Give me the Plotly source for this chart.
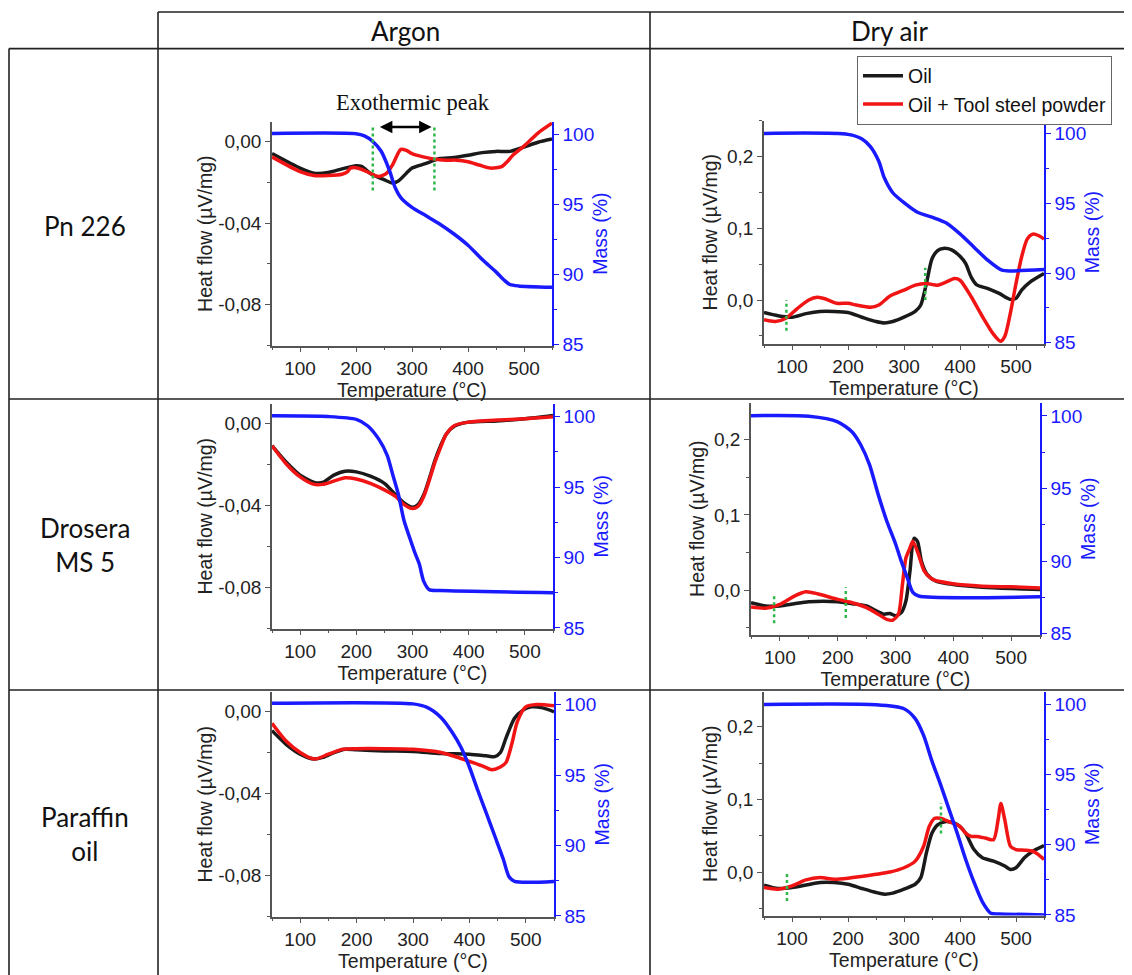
import plotly.graph_objects as go

W, H = 1132, 975
OFF = 8  # the page body has an 8px margin, so shift every pixel position back by it

# ---- data (T in °C, heat flow in µV/mg, mass in %) ----
# Pn 226 / Argon
pn_ar_oil_t = [50, 100, 125, 150, 175, 200, 210, 225, 250, 265, 275, 290, 300, 325, 340, 350, 375, 400, 425, 450, 475, 500, 525, 550]
pn_ar_oil_hf = [-0.0059, -0.013, -0.0155, -0.0152, -0.0134, -0.0118, -0.0122, -0.0155, -0.0187, -0.0203, -0.0195, -0.0155, -0.013, -0.0107, -0.0091, -0.0083, -0.0078, -0.0067, -0.0054, -0.0048, -0.0048, -0.0027, -0.0003, 0.0013]
pn_ar_mix_t = [50, 100, 125, 150, 175, 185, 190, 200, 210, 225, 240, 255, 265, 280, 290, 300, 320, 340, 360, 380, 400, 420, 440, 460, 470, 480, 500, 525, 550]
pn_ar_mix_hf = [-0.0075, -0.0147, -0.0166, -0.0166, -0.016, -0.0147, -0.013, -0.0128, -0.0136, -0.0155, -0.0171, -0.0155, -0.0115, -0.0038, -0.0043, -0.0059, -0.0075, -0.0086, -0.0091, -0.0091, -0.0099, -0.0115, -0.013, -0.0123, -0.0099, -0.0067, -0.0022, 0.0042, 0.009]
pn_ar_mass_t = [50, 200, 215, 230, 245, 260, 270, 280, 300, 325, 350, 375, 400, 425, 450, 465, 475, 490, 550]
pn_ar_mass = [100.07, 100.05, 99.9, 99.5, 98.8, 97.4, 96.2, 95.5, 94.8, 94.2, 93.6, 92.9, 92.1, 91.1, 90.2, 89.6, 89.3, 89.2, 89.1]

# Pn 226 / Dry air
pn_air_oil_t = [50, 75, 100, 125, 150, 175, 200, 225, 250, 265, 280, 300, 320, 330, 340, 350, 360, 370, 385, 400, 410, 420, 430, 450, 470, 490, 500, 510, 525, 550]
pn_air_oil_hf = [-0.0175, -0.022, -0.024, -0.019, -0.016, -0.016, -0.0175, -0.024, -0.03, -0.032, -0.03, -0.024, -0.016, -0.007, 0.023, 0.0576, 0.069, 0.072, 0.07, 0.061, 0.051, 0.032, 0.021, 0.016, 0.0092, 0.0009, 0.0023, 0.0138, 0.025, 0.037]
pn_air_mix_t = [50, 70, 90, 110, 130, 145, 160, 180, 200, 215, 240, 255, 275, 300, 320, 340, 360, 375, 390, 400, 420, 440, 460, 472, 480, 490, 500, 510, 520, 530, 540, 550]
pn_air_mix_hf = [-0.0276, -0.03, -0.025, -0.0115, 0.0, 0.0037, 0.0014, -0.0046, -0.0046, -0.007, -0.01, -0.007, 0.0055, 0.0138, 0.0207, 0.023, 0.0207, 0.025, 0.03, 0.0276, 0.0046, -0.023, -0.048, -0.0576, -0.0507, -0.018, 0.023, 0.06, 0.085, 0.092, 0.09, 0.085]
pn_air_mass_t = [50, 200, 225, 240, 255, 265, 280, 300, 325, 350, 375, 400, 425, 450, 475, 490, 550]
pn_air_mass = [100.0, 99.93, 99.6, 99.05, 98.0, 96.8, 95.75, 95.04, 94.33, 94.0, 93.6, 92.8, 91.85, 90.9, 90.2, 90.15, 90.25]

# Drosera MS 5 / Argon
dr_ar_oil_t = [50, 75, 100, 125, 140, 160, 180, 200, 225, 250, 270, 285, 300, 310, 320, 330, 340, 350, 360, 375, 400, 450, 500, 550]
dr_ar_oil_hf = [-0.0107, -0.0187, -0.0251, -0.0286, -0.0286, -0.0251, -0.0232, -0.0235, -0.0256, -0.0291, -0.0347, -0.0387, -0.0408, -0.0395, -0.0347, -0.0267, -0.0179, -0.0107, -0.0051, -0.0011, 0.0008, 0.0014, 0.0024, 0.004]
dr_ar_mix_t = [50, 75, 100, 125, 140, 160, 180, 200, 225, 250, 270, 285, 300, 310, 320, 330, 340, 350, 360, 375, 400, 450, 500, 550]
dr_ar_mix_hf = [-0.0107, -0.0195, -0.0259, -0.0296, -0.0296, -0.028, -0.0264, -0.027, -0.0291, -0.0323, -0.0355, -0.0395, -0.0414, -0.0403, -0.0355, -0.0275, -0.0187, -0.0115, -0.0051, -0.0008, 0.0008, 0.0018, 0.0024, 0.0034]
dr_ar_mass_t = [50, 150, 200, 220, 240, 255, 265, 275, 285, 295, 305, 312, 320, 330, 350, 550]
dr_ar_mass = [100.05, 100.0, 99.8, 99.35, 98.4, 97.25, 95.85, 94.45, 92.6, 91.4, 90.25, 89.55, 88.3, 87.7, 87.65, 87.5]

# Drosera MS 5 / Dry air
dr_air_oil_t = [50, 75, 100, 125, 150, 200, 225, 250, 265, 280, 290, 300, 310, 318, 325, 332, 338, 345, 355, 370, 400, 450, 500, 550]
dr_air_oil_hf = [-0.0167, -0.021, -0.021, -0.018, -0.0154, -0.0154, -0.018, -0.021, -0.027, -0.032, -0.031, -0.034, -0.03, -0.0145, 0.025, 0.069, 0.065, 0.038, 0.0207, 0.0119, 0.0075, 0.004, 0.0022, 0.0009]
dr_air_mix_t = [50, 75, 100, 125, 145, 165, 200, 225, 250, 270, 285, 295, 305, 312, 318, 325, 330, 340, 350, 365, 400, 450, 500, 550]
dr_air_mix_hf = [-0.0225, -0.024, -0.019, -0.0079, -0.0022, -0.0048, -0.0123, -0.0167, -0.0233, -0.032, -0.0388, -0.04, -0.032, 0.0075, 0.0427, 0.056, 0.065, 0.047, 0.025, 0.014, 0.0084, 0.0053, 0.0044, 0.003]
dr_air_mass_t = [50, 150, 200, 225, 240, 255, 270, 285, 300, 310, 320, 330, 340, 550]
dr_air_mass = [100.02, 99.98, 99.6, 98.9, 98.0, 96.65, 94.6, 92.75, 91.2, 90.0, 88.9, 87.85, 87.6, 87.55]

# Paraffin oil / Argon
pa_ar_oil_t = [50, 75, 100, 125, 140, 160, 180, 200, 250, 300, 350, 400, 430, 445, 455, 465, 480, 495, 510, 530, 550]
pa_ar_oil_hf = [-0.0092, -0.0159, -0.0207, -0.0231, -0.0223, -0.0199, -0.0183, -0.0186, -0.0191, -0.0194, -0.0204, -0.0207, -0.0215, -0.0219, -0.0199, -0.0127, -0.0032, 0.0008, 0.0024, 0.0019, 0.0]
pa_ar_mix_t = [50, 75, 100, 125, 150, 175, 200, 250, 300, 350, 400, 425, 440, 455, 465, 475, 485, 500, 520, 550]
pa_ar_mix_hf = [-0.0056, -0.0143, -0.0199, -0.0231, -0.0207, -0.0183, -0.018, -0.018, -0.0183, -0.0199, -0.0242, -0.0267, -0.0283, -0.027, -0.0247, -0.0159, -0.0048, 0.0024, 0.0035, 0.0029]
pa_ar_mass_t = [50, 300, 325, 350, 370, 385, 400, 415, 430, 445, 460, 470, 480, 550]
pa_ar_mass = [100.1, 100.05, 99.8, 99.07, 98.0, 96.97, 95.57, 93.9, 92.3, 90.67, 89.04, 87.8, 87.45, 87.45]

# Paraffin oil / Dry air
pa_air_oil_t = [50, 75, 100, 125, 150, 175, 200, 225, 250, 265, 280, 300, 320, 330, 340, 350, 360, 375, 390, 400, 410, 425, 440, 460, 480, 490, 500, 515, 530, 550]
pa_air_oil_hf = [-0.018, -0.0227, -0.0214, -0.018, -0.0145, -0.0145, -0.0168, -0.0227, -0.0282, -0.0305, -0.029, -0.0236, -0.0168, -0.0077, 0.0264, 0.0536, 0.065, 0.0695, 0.0673, 0.0627, 0.0536, 0.0309, 0.0195, 0.015, 0.0082, 0.0036, 0.0059, 0.0195, 0.0286, 0.0364]
pa_air_mix_t = [50, 75, 100, 125, 150, 175, 200, 250, 275, 300, 320, 335, 345, 355, 365, 380, 400, 410, 420, 430, 445, 460, 468, 473, 480, 490, 500, 515, 530, 540, 550]
pa_air_mix_hf = [-0.0214, -0.0236, -0.019, -0.0109, -0.0077, -0.01, -0.0086, -0.0032, 0.0, 0.0059, 0.015, 0.0355, 0.0627, 0.074, 0.074, 0.0695, 0.0627, 0.0536, 0.049, 0.049, 0.0468, 0.0445, 0.0718, 0.0945, 0.0718, 0.0355, 0.0309, 0.03, 0.0286, 0.024, 0.0173]
pa_air_mass_t = [50, 250, 300, 320, 335, 350, 365, 380, 395, 410, 425, 440, 455, 470, 550]
pa_air_mass = [100.0, 99.98, 99.7, 99.0, 97.8, 95.96, 94.33, 92.58, 90.83, 88.97, 87.33, 85.93, 85.12, 85.07, 85.0]

row_labels = ["Pn 226", "Drosera<br>MS 5", "Paraffin<br>oil"]
col_labels = ["Argon", "Dry air"]
series_names = ["Oil", "Oil + Tool steel powder"]

argon_ticks = [-0.08, -0.04, 0.0]
argon_ticktext = ["-0,08", "-0,04", "0,00"]
air_ticks = [0.0, 0.1, 0.2]
air_ticktext = ["0,0", "0,1", "0,2"]
mass_ticks = [85, 90, 95, 100]
temp_ticks = [100, 200, 300, 400, 500]

# green dotted markers: (panel, T, hf_top, hf_bottom)
markers = [
    (1, 230, 0.0078, -0.024), (1, 340, 0.0078, -0.024),
    (2, 90, 0.0, -0.043), (2, 338, 0.045, 0.0),
    (4, 90, -0.004, -0.044), (4, 214, 0.004, -0.037),
    (6, 91, 0.0, -0.04), (6, 366, 0.095, 0.053),
]

# ---- layout of the panels (pixel boxes: left, right, top, bottom) ----
panels = [
    dict(box=(272, 552, 123, 349), hf=(pn_ar_oil_t, pn_ar_oil_hf, pn_ar_mix_t, pn_ar_mix_hf), mass=(pn_ar_mass_t, pn_ar_mass), yr=[-0.1, 0.0097], kind="argon"),
    dict(box=(764, 1044, 122, 347), hf=(pn_air_oil_t, pn_air_oil_hf, pn_air_mix_t, pn_air_mix_hf), mass=(pn_air_mass_t, pn_air_mass), yr=[-0.0607, 0.25], kind="air"),
    dict(box=(272, 553, 408, 635), hf=(dr_ar_oil_t, dr_ar_oil_hf, dr_ar_mix_t, dr_ar_mix_hf), mass=(dr_ar_mass_t, dr_ar_mass), yr=[-0.1, 0.0097], kind="argon"),
    dict(box=(751, 1040, 407, 641), hf=(dr_air_oil_t, dr_air_oil_hf, dr_air_mix_t, dr_air_mix_hf), mass=(dr_air_mass_t, dr_air_mass), yr=[-0.059, 0.249], kind="air"),
    dict(box=(272, 554, 699, 926), hf=(pa_ar_oil_t, pa_ar_oil_hf, pa_ar_mix_t, pa_ar_mix_hf), mass=(pa_ar_mass_t, pa_ar_mass), yr=[-0.1, 0.0097], kind="argon"),
    dict(box=(764, 1044, 699, 925), hf=(pa_air_oil_t, pa_air_oil_hf, pa_air_mix_t, pa_air_mix_hf), mass=(pa_air_mass_t, pa_air_mass), yr=[-0.06, 0.248], kind="air"),
]

BLACK = "#1a1a1a"
RED = "#f01414"
BLUE = "#1a1aff"
AXIS = "#555555"
FONT = "Liberation Sans, Arial, sans-serif"
HEAD_FONT = "Lato, Open Sans, sans-serif"
TICK = 19
TITLE = 19.5


def px_x(v):
    return (v - OFF) / W


def px_y(v):
    return 1 - (v - OFF) / H


def ax_name(prefix, n):
    return prefix if n == 1 else prefix + str(n)


fig = go.Figure()
layout = {}

for i, p in enumerate(panels, start=1):
    left, right, top, bottom = p["box"]
    xa = "x" if i == 1 else "x%d" % i
    y1 = "y" if i == 1 else "y%d" % (2 * i - 1)
    y2 = "y%d" % (2 * i)

    t_oil, hf_oil, t_mix, hf_mix = p["hf"]
    t_m, m = p["mass"]
    fig.add_trace(go.Scatter(x=t_m, y=m, xaxis=xa, yaxis=y2, mode="lines",
                             line=dict(color=BLUE, width=3.5, shape="spline", smoothing=0.7),
                             showlegend=False))
    fig.add_trace(go.Scatter(x=t_oil, y=hf_oil, xaxis=xa, yaxis=y1, mode="lines", name=series_names[0],
                             line=dict(color=BLACK, width=3.5, shape="spline", smoothing=0.7),
                             showlegend=(i == 1), legendrank=1))
    fig.add_trace(go.Scatter(x=t_mix, y=hf_mix, xaxis=xa, yaxis=y1, mode="lines", name=series_names[1],
                             line=dict(color=RED, width=3.5, shape="spline", smoothing=0.7),
                             showlegend=(i == 1), legendrank=2))

    if p["kind"] == "argon":
        tv, tt, mdt, so = argon_ticks, argon_ticktext, 0.02, 0
    else:
        tv, tt, mdt, so = air_ticks, air_ticktext, 0.05, 4

    layout[ax_name("xaxis", i)] = dict(
        domain=[px_x(left), px_x(right)], anchor=y1, range=[50, 550],
        tickvals=temp_ticks, ticks="outside", ticklen=5, tickcolor=AXIS,
        minor=dict(ticks="outside", tick0=50, dtick=50, ticklen=3, tickcolor=AXIS),
        showline=True, linecolor=AXIS, linewidth=1.5, showgrid=False, zeroline=False,
        tickfont=dict(size=TICK, color="#222"),
        title=dict(text="Temperature (°C)", font=dict(size=TITLE, color="#222"), standoff=0),
    )
    layout[ax_name("yaxis", 2 * i - 1)] = dict(
        domain=[px_y(bottom), px_y(top)], anchor=xa, range=p["yr"],
        tickvals=tv, ticktext=tt, ticks="outside", ticklen=5, tickcolor=AXIS,
        minor=dict(ticks="outside", tick0=0, dtick=mdt, ticklen=3, tickcolor=AXIS),
        showline=True, linecolor=AXIS, linewidth=1.5, showgrid=False, zeroline=False,
        tickfont=dict(size=TICK, color="#222"),
        title=dict(text="Heat flow (µV/mg)", font=dict(size=TITLE, color="#222"), standoff=so),
    )
    layout[ax_name("yaxis", 2 * i)] = dict(
        overlaying=y1, side="right", anchor=xa, range=[84.95, 100.9],
        tickvals=mass_ticks, ticks="outside", ticklen=5, tickcolor=BLUE,
        minor=dict(ticks="outside", tick0=85, dtick=2.5, ticklen=3, tickcolor=BLUE),
        showline=True, linecolor=BLUE, linewidth=1.5, showgrid=False, zeroline=False,
        tickfont=dict(size=TICK, color=BLUE),
        title=dict(text="Mass (%)", font=dict(size=TITLE, color=BLUE), standoff=0),
    )

shapes = []
# table frame
line_style = dict(color="#222", width=1.6)
for (x0, y0, x1, y1) in [(158, 12, 1140, 12), (9, 49, 1140, 49), (9, 403, 1140, 403),
                         (9, 697, 1140, 697), (9, 49, 9, 985), (158, 12, 158, 985),
                         (650, 12, 650, 985)]:
    shapes.append(dict(type="line", xref="paper", yref="paper",
                       x0=px_x(x0), x1=px_x(x1), y0=px_y(y0), y1=px_y(y1), line=line_style))

for (pi, t, ytop, ybot) in markers:
    xa = "x" if pi == 1 else "x%d" % pi
    ya = "y" if pi == 1 else "y%d" % (2 * pi - 1)
    shapes.append(dict(type="line", xref=xa, yref=ya, x0=t, x1=t, y0=ybot, y1=ytop,
                       line=dict(color="#2db84a", width=2.5, dash="dot")))

annotations = []
for txt, cx in zip(col_labels, [405, 890]):
    annotations.append(dict(text=txt, xref="paper", yref="paper", x=px_x(cx), y=px_y(31),
                            xanchor="center", yanchor="middle", showarrow=False,
                            font=dict(family=HEAD_FONT, size=26, color="#111")))
for txt, cy in zip(row_labels, [228, 551, 843]):
    annotations.append(dict(text=txt, xref="paper", yref="paper", x=px_x(85), y=px_y(cy),
                            xanchor="center", yanchor="middle", showarrow=False, align="center",
                            font=dict(family=HEAD_FONT, size=26, color="#111")))

# exothermic peak arrow + label
annotations.append(dict(x=335, y=0.0071, ax=240, ay=0.0071, xref="x", yref="y", axref="x", ayref="y",
                        text="", showarrow=True, arrowhead=2, arrowside="end+start",
                        arrowwidth=2.5, arrowsize=1, arrowcolor="#000"))
annotations.append(dict(x=px_x(413), y=px_y(103), xref="paper", yref="paper", text="Exothermic peak",
                        xanchor="center", yanchor="middle", showarrow=False,
                        font=dict(family="Liberation Serif, Times New Roman, serif", size=22.5, color="#111")))

fig.update_layout(
    width=W, height=H, margin=dict(l=0, r=0, t=0, b=0),
    paper_bgcolor="white", plot_bgcolor="white",
    font=dict(family=FONT, size=TICK, color="#222"),
    shapes=shapes, annotations=annotations,
    legend=dict(x=px_x(857), y=px_y(56), xanchor="left", yanchor="top",
                bordercolor="#666", borderwidth=1, bgcolor="white",
                font=dict(size=19.5, color="#111"), tracegroupgap=0, itemwidth=40),
    **layout,
)

fig.write_html("out.html")
